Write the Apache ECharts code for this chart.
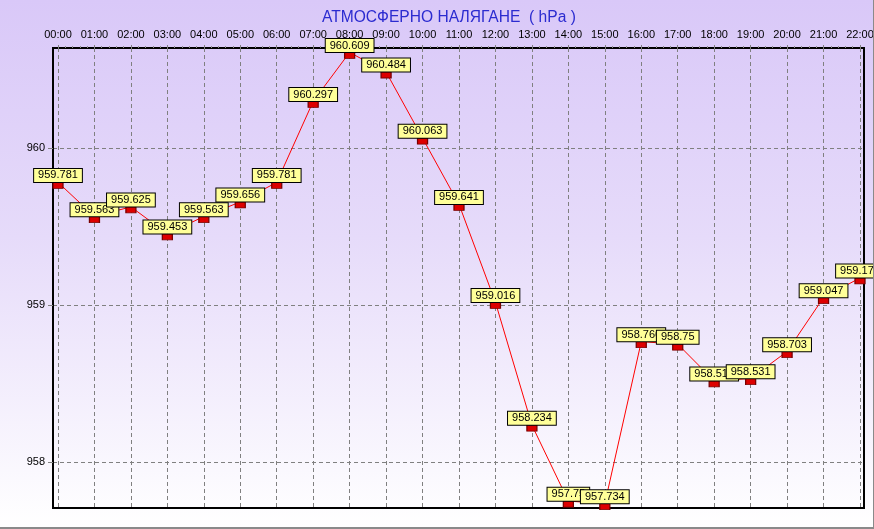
<!DOCTYPE html>
<html><head><meta charset="utf-8">
<script src="https://cdn.jsdelivr.net/npm/echarts@6/dist/echarts.min.js"></script>
<style>html,body{margin:0;padding:0;background:#fff;} #c{width:874px;height:529px;box-sizing:border-box;border-right:1px solid #8a8a8a;border-bottom:2px solid #8a8a8a;background:linear-gradient(to bottom,#d9c8f8 0%,#e6dbfa 45%,#ffffff 100%);}</style>
</head><body><div id="c"></div><script>
const titleText = 'АТМОСФЕРНО НАЛЯГАНЕ  ( hPa )';
const hours = ['00:00','01:00','02:00','03:00','04:00','05:00','06:00','07:00','08:00','09:00','10:00','11:00','12:00','13:00','14:00','15:00','16:00','17:00','18:00','19:00','20:00','21:00','22:00'];
const pressure = [959.781,959.563,959.625,959.453,959.563,959.656,959.781,960.297,960.609,960.484,960.063,959.641,959.016,958.234,957.75,957.734,958.766,958.75,958.516,958.531,958.703,959.047,959.172];
const yTickValues = [958,959,960];
const yMin = 957.706, yMax = 960.637;

const FONT = 'Arial, "Liberation Sans", sans-serif';
const chart = echarts.init(document.getElementById('c'));
chart.setOption({
  animation: false,
  backgroundColor: 'transparent',
  title: { text: titleText, left: 317, top: 5, textStyle: { fontSize: 15.6, fontWeight: 'normal', color: '#2b2bd0', fontFamily: FONT } },
  grid: [
    { left: 53, right: 9, top: 48, bottom: 19, show: true, borderColor: '#000', borderWidth: 2, backgroundColor: 'transparent', outerBoundsMode: 'none', containLabel: false },
    { left: 58, right: 13, top: 48, bottom: 19, outerBoundsMode: 'none', containLabel: false }
  ],
  xAxis: [
    { gridIndex: 0, type: 'value', min: 0, max: 1, show: false },
    { gridIndex: 1, type: 'value', position: 'top', min: 0, max: hours.length - 1, interval: 1,
      axisLine: { show: false },
      axisTick: { show: true, length: 6, lineStyle: { color: '#808080', type: [3, 3] } },
      minorTick: { show: true, splitNumber: 5, length: 2, lineStyle: { color: '#909090' } },
      axisLabel: { formatter: v => hours[v] || '', fontSize: 11, color: '#000', fontFamily: FONT, margin: 8 },
      splitLine: { show: true, lineStyle: { color: '#808080', type: [4, 3], width: 1 } } }
  ],
  yAxis: [
    { gridIndex: 0, type: 'value', min: yMin, max: yMax,
      axisLine: { show: true, lineStyle: { color: '#000', width: 2 } },
      axisTick: { show: true, length: 5, customValues: yTickValues, lineStyle: { color: '#808080' } },
      axisLabel: { customValues: yTickValues, fontSize: 11, color: '#000', fontFamily: FONT, margin: 8 },
      splitLine: { show: true, lineStyle: { color: '#808080', type: [4, 3], width: 1 } } },
    { gridIndex: 1, type: 'value', min: yMin, max: yMax, show: false, splitLine: { show: false } }
  ],
  series: [{
    type: 'line', xAxisIndex: 1, yAxisIndex: 1,
    data: pressure.map((v, i) => [i, v]),
    clip: false,
    lineStyle: { color: '#ff0000', width: 1 },
    symbol: 'rect', symbolSize: [10, 6], symbolOffset: [0, 3],
    itemStyle: { color: '#dd0000', borderColor: '#7a0000', borderWidth: 1 },
    label: { show: true, position: 'top', distance: 0, formatter: p => String(p.value[1]),
      backgroundColor: '#ffff99', borderColor: '#000', borderWidth: 1, padding: [1, 4, 1, 4],
      fontSize: 11, color: '#000', fontFamily: FONT },
    emphasis: { disabled: true }
  }]
});
</script></body></html>
